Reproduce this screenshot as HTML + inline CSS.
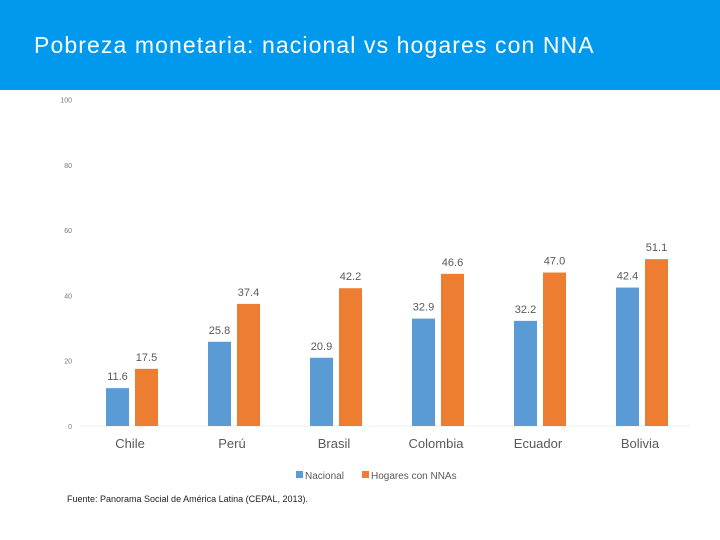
<!DOCTYPE html>
<html><head><meta charset="utf-8"><style>
body{margin:0;width:720px;height:540px;background:#fff;font-family:"Liberation Sans",sans-serif;overflow:hidden;position:relative}
#hdr{position:absolute;left:0;top:0;width:720px;height:90px;background:#0099ee}
#title{position:absolute;left:34px;top:32px;color:#fff;font-size:23px;letter-spacing:1.1px}
#foot{position:absolute;left:67px;top:494px;font-size:9px;color:#222}
</style></head><body>
<div id="hdr"></div>
<div id="title">Pobreza monetaria: nacional vs hogares con NNA</div>
<svg id="chart" width="720" height="540" style="position:absolute;left:0;top:0"></svg>
<div id="foot">Fuente: Panorama Social de América Latina (CEPAL, 2013).</div>
<script>
const categories=["Chile","Perú","Brasil","Colombia","Ecuador","Bolivia"];
const nacional=[11.6,25.8,20.9,32.9,32.2,42.4];
const hogares=[17.5,37.4,42.2,46.6,47.0,51.1];
const yTicks=[0,20,40,60,80,100];
const svg=document.getElementById('chart');
const NS="http://www.w3.org/2000/svg";
const y=v=>426-v*3.265;
const xc=i=>132+i*102;
function mk(t,a){const e=document.createElementNS(NS,t);for(const k in a)e.setAttribute(k,a[k]);svg.appendChild(e);return e;}
const base=mk('line',{x1:80,x2:690,y1:426,y2:426,stroke:'#eeeeee'});


yTicks.forEach(v=>{const t=mk('text',{x:72,y:y(v)+3,'text-anchor':'end','font-size':7,fill:'#777'});t.textContent=v;

});
categories.forEach((c,i)=>{
 const cx=xc(i);
 [[nacional[i],'#5b9bd5',cx-26,'bar-nacional'],[hogares[i],'#ed7d31',cx+3,'bar-hogares']].forEach(([v,col,x,n])=>{
  const r=mk('rect',{x:x,y:y(v),width:23,height:426-y(v),fill:col});
  
  
  const t=mk('text',{x:x+11.5,y:y(v)-8,'text-anchor':'middle','font-size':11,fill:'#595959'});t.textContent=v.toFixed(1);
  
  
 });
 const l=mk('text',{x:cx-2,y:448,'text-anchor':'middle','font-size':13,fill:'#595959'});l.textContent=c;
 
 
});
const legend=[['Nacional','#5b9bd5',296],['Hogares con NNAs','#ed7d31',362]];
legend.forEach(([n,c,x])=>{
 const r=mk('rect',{x:x,y:471,width:7,height:7,fill:c});
 
 
 const t=mk('text',{x:x+9,y:479,'font-size':10,fill:'#595959'});t.textContent=n;
 
 
});
</script>
</body></html>
